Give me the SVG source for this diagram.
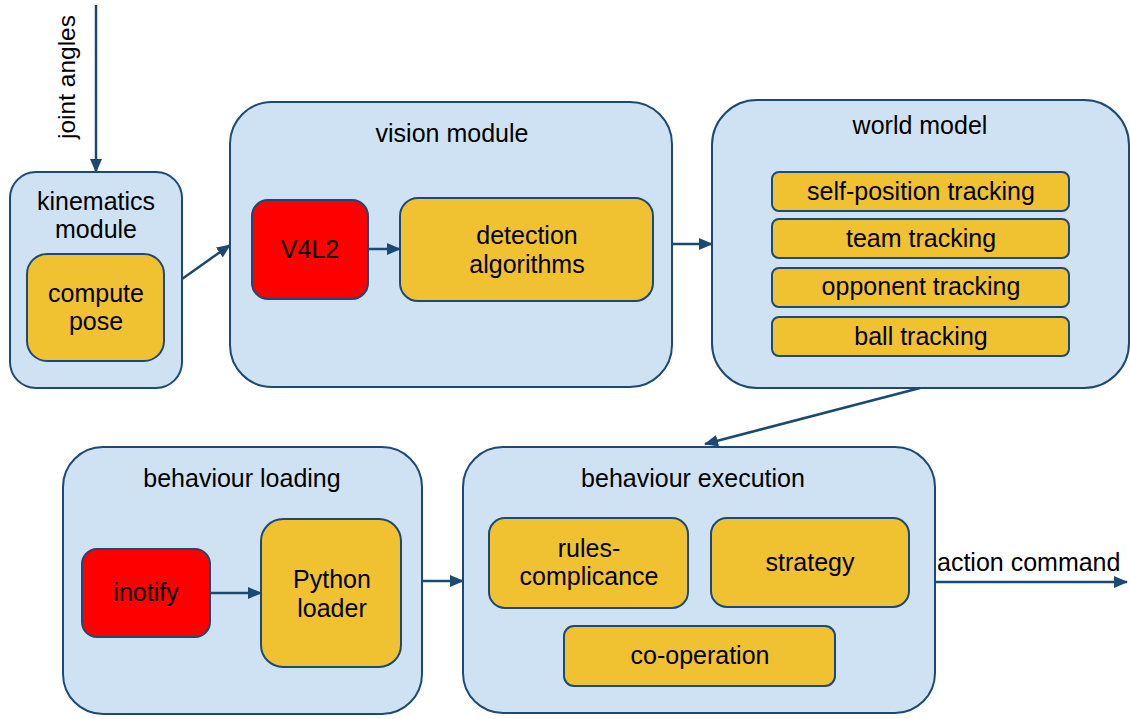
<svg xmlns="http://www.w3.org/2000/svg" width="1130" height="719" viewBox="0 0 1130 719">
<style>
.outer{fill:#cfe2f3;stroke:#1c4a74;stroke-width:2}
.inner{fill:#f0c232;stroke:#1c4a74;stroke-width:2}
.red{fill:#ff0000;stroke:#1c4a74;stroke-width:2}
text{font-family:"Liberation Sans",Arial,sans-serif;font-size:25px;fill:#000;text-anchor:middle}
.conn{stroke:#1a4a72;stroke-width:2.5;fill:none;marker-end:url(#arr)}
</style>
<defs>
<marker id="arr" markerUnits="userSpaceOnUse" markerWidth="14" markerHeight="12" refX="13" refY="6" orient="auto">
<path d="M0,0 L14,6 L0,12 z" fill="#1a4a72"/>
</marker>
</defs>
<rect width="1130" height="719" fill="#fff"/>
<g id="kinematics">
<rect class="outer" x="10" y="172" width="172" height="216" rx="26"/>
<text x="96" y="210">kinematics</text>
<text x="96" y="238">module</text>
<g id="compute-pose">
<rect class="inner" x="27" y="254" width="137" height="107" rx="20"/>
<text x="96" y="302">compute</text>
<text x="96" y="330">pose</text>
</g>
</g>
<g id="vision">
<rect class="outer" x="230" y="102" width="442" height="285" rx="42"/>
<text x="452" y="142">vision module</text>
<g id="v4l2">
<rect class="red" x="252" y="200" width="116" height="99" rx="16"/>
<text x="310" y="258">V4L2</text>
</g>
<g id="detection">
<rect class="inner" x="400" y="198" width="253" height="103" rx="18"/>
<text x="527" y="244">detection</text>
<text x="527" y="273">algorithms</text>
</g>
</g>
<g id="world">
<rect class="outer" x="712" y="100" width="417" height="288" rx="45"/>
<text x="920" y="134">world model</text>
<g id="self"><rect class="inner" x="772" y="172" width="297" height="39" rx="7"/><text x="921" y="200">self-position tracking</text></g>
<g id="team"><rect class="inner" x="772" y="219" width="297" height="39" rx="7"/><text x="921" y="247">team tracking</text></g>
<g id="opponent"><rect class="inner" x="772" y="268" width="297" height="39" rx="7"/><text x="921" y="295">opponent tracking</text></g>
<g id="ball"><rect class="inner" x="772" y="317" width="297" height="39" rx="7"/><text x="921" y="345">ball tracking</text></g>
</g>
<g id="loading">
<rect class="outer" x="63" y="447" width="359" height="267" rx="40"/>
<text x="242" y="487">behaviour loading</text>
<g id="inotify">
<rect class="red" x="82" y="549" width="128" height="88" rx="15"/>
<text x="146" y="601">inotify</text>
</g>
<g id="python">
<rect class="inner" x="261" y="519" width="140" height="148" rx="22"/>
<text x="332" y="588">Python</text>
<text x="332" y="617">loader</text>
</g>
</g>
<g id="execution">
<rect class="outer" x="463" y="447" width="472" height="266" rx="40"/>
<text x="693" y="487">behaviour execution</text>
<g id="rules">
<rect class="inner" x="489" y="518" width="199" height="90" rx="16"/>
<text x="589" y="557">rules-</text>
<text x="589" y="585">complicance</text>
</g>
<g id="strategy">
<rect class="inner" x="711" y="518" width="198" height="89" rx="16"/>
<text x="810" y="571">strategy</text>
</g>
<g id="cooperation">
<rect class="inner" x="564" y="626" width="271" height="60" rx="10"/>
<text x="700" y="664">co-operation</text>
</g>
</g>
<g id="connectors">
<line class="conn" x1="96" y1="5" x2="96" y2="172"/>
<line class="conn" x1="182" y1="279" x2="230" y2="245"/>
<line class="conn" x1="368" y1="249" x2="400" y2="249"/>
<line class="conn" x1="672" y1="244" x2="712" y2="244"/>
<line class="conn" x1="920" y1="388" x2="705" y2="444"/>
<line class="conn" x1="210" y1="593" x2="261" y2="593"/>
<line class="conn" x1="422" y1="581" x2="463" y2="581"/>
<line class="conn" x1="935" y1="582" x2="1127" y2="582"/>
<text transform="translate(75,77) rotate(-90)" style="font-size:24.5px">joint angles</text>
<text x="937" y="571" style="text-anchor:start">action command</text>
</g>
</svg>
